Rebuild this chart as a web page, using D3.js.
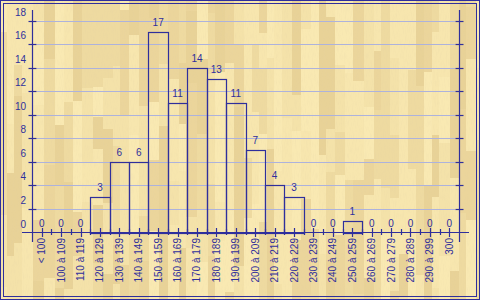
<!DOCTYPE html>
<html>
<head>
<meta charset="utf-8">
<script src="https://cdn.jsdelivr.net/npm/d3@7"></script>
<style>
  body { margin: 0; background: #fff; }
  text { font-family: "Liberation Sans", Arial, sans-serif; }
</style>
</head>
<body>
<div id="vis-container"></div>
<script>
// data
const categories = ["< 100", "100 à 109", "110 à 119", "120 à 129", "130 à 139", "140 à 149",
  "150 à 159", "160 à 169", "170 à 179", "180 à 189", "190 à 199", "200 à 209", "210 à 219",
  "220 à 229", "230 à 239", "240 à 249", "250 à 259", "260 à 269", "270 à 279", "280 à 289",
  "290 à 299", "300"];
const counts = [0, 0, 0, 3, 6, 6, 17, 11, 14, 13, 11, 7, 4, 3, 0, 0, 1, 0, 0, 0, 0, 0];
const yTicks = [0, 2, 4, 6, 8, 10, 12, 14, 16, 18];

const width = 480;
const height = 300;
const navy = "#2f2f9c";

const svg = d3.select("#vis-container")
  .append("svg")
  .attr("width", width)
  .attr("height", height);

// wood parquet background (decoration only)
const bg = svg.append("g");
bg.append("rect").attr("width", width).attr("height", height).attr("fill", "#f1dea6");
let seed = 11;
function rnd() { seed = (seed * 16807) % 2147483647; return seed / 2147483647; }
const shades = ["#f9e9b2", "#f4e2a9", "#eedaa0", "#e8d297", "#f7e6ae", "#ebd59b"];
let planks = [];
for (let x = 0; x < width; ) {
  const w = 7 + Math.floor(rnd() * 5);
  let y = -Math.floor(rnd() * 60);
  while (y < height) {
    const h = 30 + Math.floor(rnd() * 90);
    planks.push({ x: x, y: y, w: w, h: h, c: shades[Math.floor(rnd() * shades.length)] });
    y += h;
  }
  x += w;
}
bg.selectAll("rect.plank")
  .data(planks)
  .join("rect")
  .attr("class", "plank")
  .attr("x", d => d.x).attr("y", d => d.y)
  .attr("width", d => d.w).attr("height", d => d.h)
  .attr("fill", d => d.c);

// grain
const defs = svg.append("defs");
const f = defs.append("filter").attr("id", "grain").attr("x", 0).attr("y", 0).attr("width", "100%").attr("height", "100%");
f.append("feTurbulence").attr("type", "fractalNoise").attr("baseFrequency", "1.1 0.15").attr("numOctaves", 2).attr("seed", 3);
f.append("feColorMatrix").attr("type", "matrix")
  .attr("values", "0 0 0 0 0.75  0 0 0 0 0.62  0 0 0 0 0.38  0 0 0 -1.8 1.0");
bg.append("rect").attr("width", width).attr("height", height).attr("filter", "url(#grain)").attr("opacity", 0.22);

// scales
const x = d3.scaleBand()
  .domain(categories)
  .range([32, 459])
  .padding(0);

const y = d3.scaleLinear()
  .domain([0, 18])
  .range([232.5, 20.5]);

// grid lines
svg.append("g")
  .selectAll("line")
  .data(yTicks.filter(d => d > 0))
  .join("line")
  .attr("x1", 37).attr("x2", 455)
  .attr("y1", d => Math.round(y(d)) + 0.5)
  .attr("y2", d => Math.round(y(d)) + 0.5)
  .attr("stroke", "#adb2dc")
  .attr("stroke-width", 1);

// bars (outline only)
svg.append("g")
  .selectAll("rect")
  .data(counts.map((v, i) => ({ cat: categories[i], v: v })).filter(d => d.v > 0))
  .join("rect")
  .attr("x", d => Math.round(x(d.cat)) + 0.5)
  .attr("y", d => Math.round(y(d.v)) + 0.5)
  .attr("width", d => Math.round(x(d.cat) + x.bandwidth()) - Math.round(x(d.cat)))
  .attr("height", d => Math.round(y(0)) - Math.round(y(d.v)))
  .attr("fill", "none")
  .attr("stroke", navy)
  .attr("stroke-width", 1.2);

// value labels
svg.append("g")
  .selectAll("text")
  .data(counts.map((v, i) => ({ cat: categories[i], v: v })))
  .join("text")
  .attr("x", d => x(d.cat) + x.bandwidth() / 2)
  .attr("y", d => y(d.v) - 6)
  .attr("text-anchor", "middle")
  .attr("font-size", "10px")
  .attr("fill", navy)
  .text(d => d.v);

// left and right axes
const axes = svg.append("g").attr("stroke", navy).attr("stroke-width", 1.2);
[32.5, 459.5].forEach(ax => {
  axes.append("line").attr("x1", ax).attr("x2", ax).attr("y1", 10).attr("y2", 242);
  axes.selectAll(null)
    .data(yTicks.filter(d => d > 0))
    .join("line")
    .attr("x1", ax - 4).attr("x2", ax + 4)
    .attr("y1", d => Math.round(y(d)) + 0.5)
    .attr("y2", d => Math.round(y(d)) + 0.5);
});

// y tick labels (sit above their ticks)
svg.append("g")
  .selectAll("text")
  .data(yTicks)
  .join("text")
  .attr("x", 26)
  .attr("y", d => y(d) - 5)
  .attr("text-anchor", "end")
  .attr("font-size", "10px")
  .attr("fill", navy)
  .text(d => d);

// x axis
axes.append("line").attr("x1", 22).attr("x2", 469).attr("y1", 232.5).attr("y2", 232.5);
axes.selectAll(null)
  .data(categories)
  .join("line")
  .attr("x1", d => Math.round(x(d) + x.bandwidth() / 2) + 0.5)
  .attr("x2", d => Math.round(x(d) + x.bandwidth() / 2) + 0.5)
  .attr("y1", 228).attr("y2", 237);
axes.selectAll(null)
  .data(categories.slice(1))
  .join("line")
  .attr("x1", d => Math.round(x(d)) + 0.5)
  .attr("x2", d => Math.round(x(d)) + 0.5)
  .attr("y1", 229).attr("y2", 235);

svg.append("g")
  .selectAll("text")
  .data(categories)
  .join("text")
  .attr("transform", d => `translate(${x(d) + x.bandwidth() / 2 + 3.5},238) rotate(-90)`)
  .attr("text-anchor", "end")
  .attr("font-size", "10px")
  .attr("fill", navy)
  .text(d => d);

// double frame
svg.append("rect").attr("x", 0.5).attr("y", 0.5).attr("width", 479).attr("height", 299)
  .attr("fill", "none").attr("stroke", navy);
svg.append("rect").attr("x", 3.5).attr("y", 3.5).attr("width", 473).attr("height", 293)
  .attr("fill", "none").attr("stroke", navy);
</script>
</body>
</html>
